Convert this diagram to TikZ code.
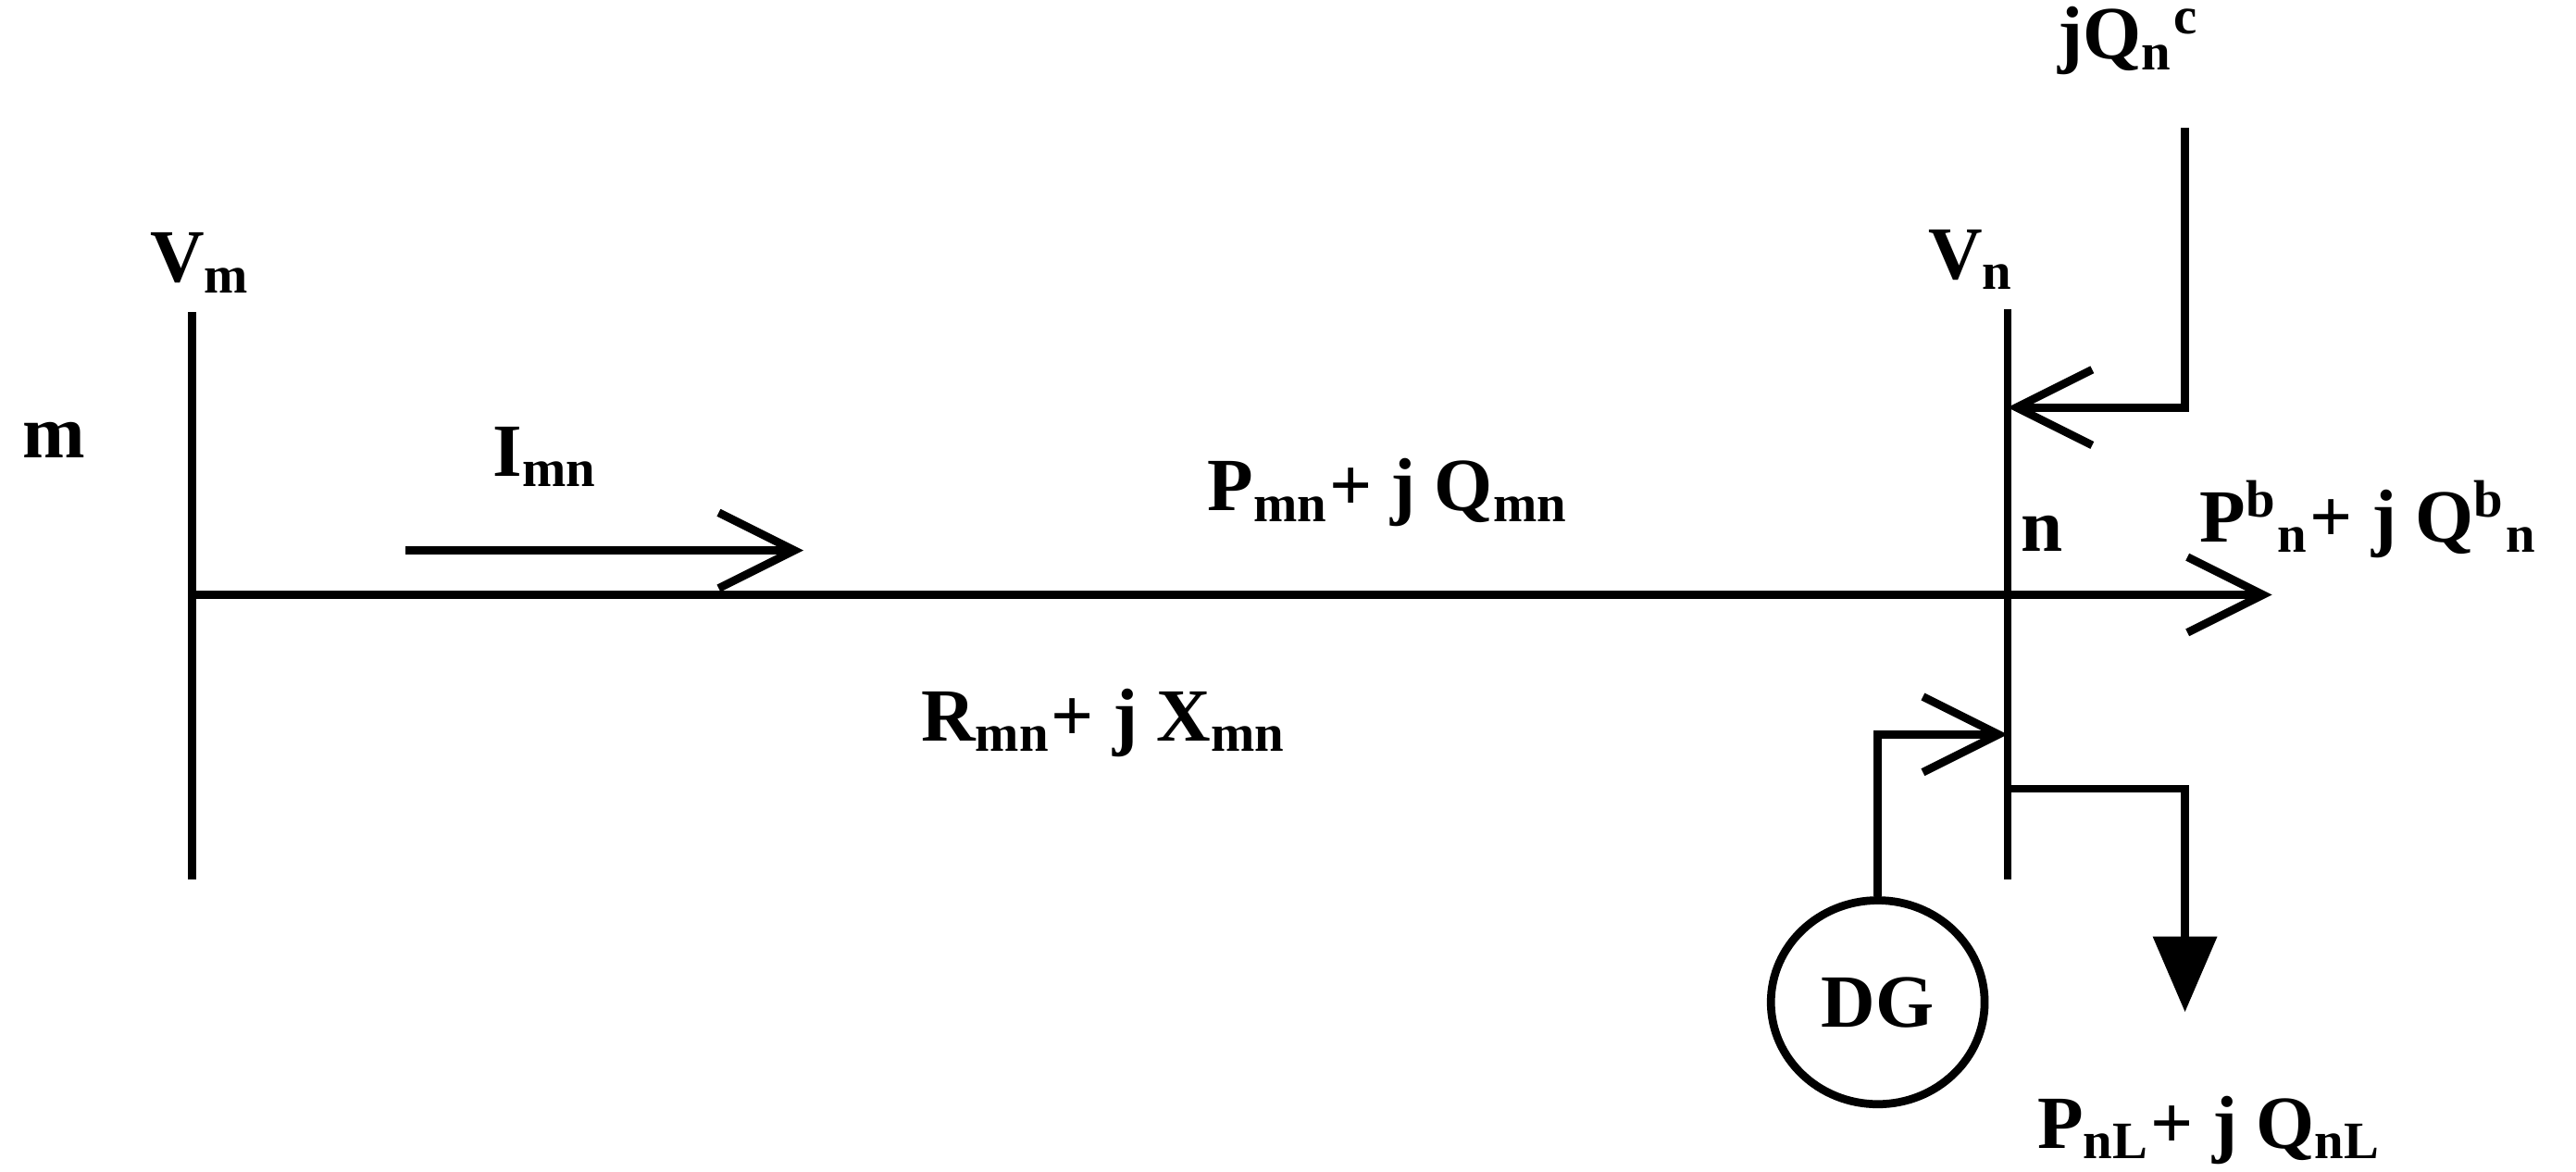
\documentclass[tikz,border=0pt]{standalone}
\usepackage{fontspec}
\setmainfont{Liberation Serif}
\usetikzlibrary{arrows.meta,shapes.geometric}
\begin{document}
\begin{tikzpicture}[x=0.01cm,y=-0.01cm,line width=1.4pt,
    font=\fontsize{13}{15}\selectfont\bfseries,
    barb/.style={-{Straight Barb[length=4.6mm,width=4.6mm,line width=1.4pt]}},
    load/.style={-{Triangle[length=4.6mm,width=3.8mm]}},
    lbl/.style={inner sep=0pt}]
\useasboundingbox (0,0) rectangle (1568,713);

% Buses
\draw (117,190) coordinate (mtop) -- (117,535) coordinate (mbot);
\draw (1222,188) coordinate (ntop) -- (1222,535) coordinate (nbot);

% Line and flows
\coordinate (mline) at (117,362);
\coordinate (nout) at (1383,362);
\draw[barb] (mline) -- (nout);
\coordinate (istart) at (247,335);
\coordinate (iend) at (489,335);
\draw[barb] (istart) -- (iend);

% Shunt compensation
\coordinate (qtop) at (1330,78);
\coordinate (qin) at (1222,248);
\draw[barb] (qtop) |- (qin);

% DG
\node[draw,ellipse,minimum width=1.3cm,minimum height=1.24cm,inner sep=0pt] (dg) at (1143,610) {DG};
\coordinate (dgin) at (1222,447);
\draw[barb] (dg.north) |- (dgin);

% Load
\coordinate (ltap) at (1222,480);
\coordinate (lend) at (1330,616);
\draw[load] (ltap) -| (lend);

% Labels
\node[lbl] (vm) at (122,160) {V\textsubscript{m}};
\node[lbl] (m) at (33,268) {m};
\node[lbl] (imn) at (332,278) {I\textsubscript{mn}};
\node[lbl] (pmn) at (845,300) {P\textsubscript{mn}+ j Q\textsubscript{mn}};
\node[lbl] (rmn) at (672,440) {R\textsubscript{mn}+ j X\textsubscript{mn}};
\node[lbl] (vn) at (1200,158) {V\textsubscript{n}};
\node[lbl] (qc) at (1296,25) {jQ\textsubscript{n}\textsuperscript{c}};
\node[lbl] (n) at (1243,325) {n};
\node[lbl] (pb) at (1442,316) {P\textsuperscript{b}\textsubscript{n}+ j Q\textsuperscript{b}\textsubscript{n}};
\node[lbl] (pl) at (1345,688) {P\textsubscript{nL}+ j Q\textsubscript{nL}};
\end{tikzpicture}
\end{document}
